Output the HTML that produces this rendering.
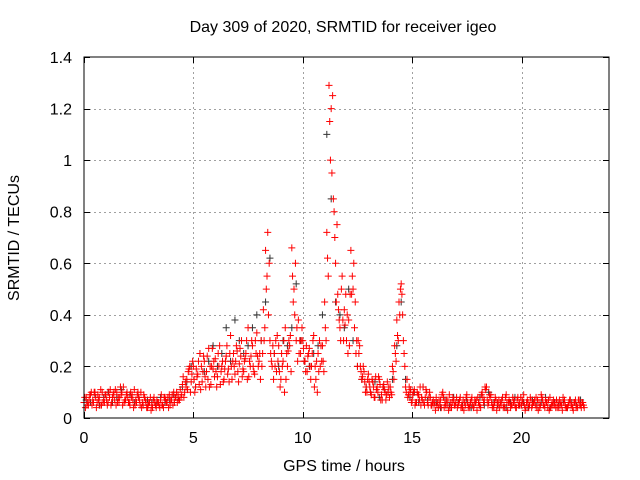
<!DOCTYPE html>
<html><head><meta charset="utf-8"><style>
body{margin:0;background:#fff}
svg{display:block;font-family:"Liberation Sans",sans-serif}
</style></head><body>
<svg id="chart" width="640" height="480">
<text x="343" y="32" text-anchor="middle" font-size="16">Day 309 of 2020, SRMTID for receiver igeo</text>
<text x="344" y="471" text-anchor="middle" font-size="16">GPS time / hours</text>
<text transform="translate(19,238) rotate(-90)" text-anchor="middle" font-size="16">SRMTID / TECUs</text>
<g id="grid"></g>
<g id="ticks"></g>
<g id="black"></g>
<g id="red"></g>
<rect x="84" y="57" width="525" height="361" fill="none" stroke="#000" stroke-width="1"/>
</svg>
<script>
const xTicks=[0,5,10,15,20];
const yTicks=[0,0.2,0.4,0.6,0.8,1,1.2,1.4];
const yTickLabels=["0","0.2","0.4","0.6","0.8","1","1.2","1.4"];
const redA=[0.06,0.08,0.05,0.09,0.07,0.1,0.06,0.08,0.05,0.07,0.09,0.06,0.11,0.08,0.07,0.1,0.06,0.09,0.12,0.07,0.08,0.05,0.09,0.11,0.06,0.08,0.1,0.05,0.07,0.04,0.06,0.05,0.08,0.04,0.06,0.07,0.05,0.08,0.06,0.09,0.07,0.1,0.08,0.09,0.11,
0.13,0.1,0.15,0.19,0.14,
0.2,0.12,0.17,0.25,0.14,0.22,0.18,0.27,0.13,0.19,0.23,0.16,0.28,0.2,0.15,0.24,0.19,0.32,0.22,0.17,0.26,0.21,0.3,0.18,0.25,0.35,0.2,0.28,0.17,0.33,
0.22,0.3,0.42,0.65,0.72,0.3,0.2,0.25,0.18,0.28,
0.15,0.22,0.35,0.2,0.28,0.66,0.5,0.3,0.38,0.25,
0.3,0.22,0.18,0.27,0.2,0.32,0.15,0.25,0.2,0.28,
0.45,0.72,1.29,1.2,0.85,0.6,0.48,0.35,0.55,0.42,
0.3,0.38,0.65,0.5,0.45,0.2,0.28,0.15,0.18,0.12,
0.17,0.1,0.14,0.08,0.12,0.15,0.09,0.13,0.07,0.1,
0.12,0.2,0.28,0.38,0.45,0.52,0.3,0.12,0.08,0.1,
0.07,0.11,0.06,0.09,0.05,0.12,0.08,0.06,0.1,0.05,
0.05,0.08,0.04,0.07,0.1,0.06,0.05,0.09,0.04,0.07,0.06,0.05,0.08,0.04,0.06,0.09,0.05,0.07,0.04,0.06,0.08,0.05,0.1,0.07,0.12,0.06,0.09,0.05,0.08,0.06,0.04,0.07,0.05,0.09,0.06,0.04,0.08,0.05,0.07,0.06,0.05,0.09,0.04,0.06,0.08,0.05,0.07,0.04,0.06,0.09,0.05,0.07,0.04,0.08,0.06,0.05,0.07,0.04,0.06,0.08,0.05,0.04,0.07,0.05,0.06,0.04,0.07,0.05,0.06];
const redB=[0.04,0.06,0.09,0.05,0.1,0.04,0.07,0.11,0.06,0.09,0.05,0.08,0.06,0.1,0.05,0.08,0.12,0.05,0.07,0.1,0.06,0.08,0.04,0.07,0.1,0.05,0.06,0.08,0.04,0.06,0.03,0.07,0.05,0.06,0.04,0.05,0.08,0.06,0.04,0.07,0.05,0.08,0.06,0.07,0.09,
0.08,0.12,0.18,0.1,0.22,
0.1,0.16,0.13,0.2,0.24,0.12,0.15,0.2,0.27,0.16,0.12,0.2,0.18,0.14,0.22,0.17,0.25,0.15,0.2,0.28,0.14,0.24,0.19,0.23,0.15,0.22,0.3,0.18,0.25,0.2,
0.15,0.25,0.35,0.55,0.6,0.22,0.15,0.3,0.22,0.12,
0.2,0.1,0.25,0.3,0.18,0.45,0.6,0.22,0.3,0.35,
0.22,0.28,0.25,0.15,0.3,0.2,0.1,0.3,0.22,0.18,
0.3,0.55,1.0,1.25,0.7,0.75,0.38,0.5,0.3,0.48,
0.25,0.48,0.55,0.35,0.3,0.25,0.18,0.2,0.1,0.15,
0.12,0.15,0.08,0.11,0.16,0.07,0.12,0.1,0.14,0.08,
0.09,0.15,0.22,0.3,0.5,0.4,0.2,0.15,0.12,0.06,
0.1,0.06,0.09,0.12,0.07,0.05,0.1,0.08,0.05,0.07,
0.03,0.06,0.05,0.09,0.04,0.07,0.03,0.06,0.08,0.05,0.04,0.07,0.05,0.03,0.08,0.04,0.06,0.05,0.07,0.03,0.05,0.09,0.06,0.11,0.05,0.08,0.04,0.06,0.03,0.07,0.05,0.04,0.08,0.03,0.06,0.05,0.07,0.04,0.05,0.08,0.06,0.03,0.07,0.05,0.04,0.06,0.08,0.03,0.05,0.07,0.04,0.06,0.03,0.05,0.07,0.04,0.06,0.05,0.03,0.07,0.04,0.06,0.05,0.03,0.07,0.04,0.05,0.06,0.04];
const redC=[0.08,0.05,0.07,0.1,0.06,0.08,0.09,0.05,0.1,0.06,0.07,0.1,0.05,0.09,0.11,0.06,0.08,0.1,0.06,0.09,0.06,0.1,0.07,0.05,0.09,0.07,0.04,0.09,0.06,0.05,0.08,0.04,0.06,0.07,0.05,0.09,0.04,0.07,0.08,0.05,0.09,0.06,0.1,0.07,0.08,
0.16,0.14,0.11,0.2,0.17,
0.15,0.19,0.22,0.11,0.18,0.16,0.24,0.12,0.2,0.22,0.18,0.25,0.13,0.22,0.19,0.28,0.14,0.2,0.25,0.22,0.18,0.27,0.16,0.22,0.3,0.16,0.24,0.2,0.3,0.24,
0.25,0.2,0.3,0.5,0.4,0.25,0.28,0.2,0.32,0.18,
0.25,0.3,0.15,0.26,0.32,0.55,0.4,0.35,0.25,0.3,
0.27,0.18,0.24,0.2,0.25,0.12,0.22,0.18,0.28,0.22,
0.35,0.62,1.15,0.95,0.8,0.45,0.42,0.3,0.38,0.36,
0.4,0.28,0.48,0.6,0.25,0.3,0.2,0.16,0.14,0.1,
0.14,0.09,0.12,0.16,0.1,0.13,0.07,0.11,0.09,0.12,
0.1,0.18,0.25,0.32,0.4,0.48,0.25,0.1,0.09,0.11,
0.09,0.05,0.1,0.07,0.08,0.06,0.11,0.05,0.08,0.06,
0.06,0.05,0.07,0.04,0.08,0.05,0.07,0.04,0.06,0.05,0.08,0.06,0.04,0.07,0.05,0.06,0.04,0.08,0.05,0.07,0.06,0.04,0.08,0.12,0.07,0.09,0.06,0.04,0.07,0.05,0.06,0.08,0.04,0.06,0.07,0.05,0.06,0.04,0.08,0.05,0.07,0.05,0.06,0.04,0.07,0.06,0.05,0.07,0.04,0.08,0.05,0.06,0.07,0.04,0.05,0.06,0.04,0.07,0.05,0.06,0.04,0.05,0.07,0.04,0.06,0.05,0.07,0.04,0.05];
const blackV=[0.07,0.06,0.09,0.05,0.08,0.1,0.06,0.08,0.11,0.07,0.09,0.06,0.08,0.05,0.07,0.06,0.05,0.08,0.06,0.07,0.09,0.08,0.12,
0.14,0.2,0.12,0.25,0.18,0.22,0.28,0.2,0.25,0.35,0.22,0.38,0.3,0.25,
0.28,0.35,0.4,0.3,0.45,
0.62,
0.25,0.2,0.3,0.28,0.35,
0.52,
0.3,0.22,0.2,0.25,0.28,
0.4,1.1,0.85,
0.45,0.4,0.35,0.5,
0.3,0.2,0.15,
0.12,0.1,0.14,0.08,0.12,
0.1,0.15,0.28,0.45,
0.15,0.08,0.1,0.06,0.12,0.07,0.05,
0.06,0.04,0.07,0.05,0.08,0.06,0.05,0.07,0.04,0.06,0.08,0.05,0.1,0.06,0.05,0.07,0.04,0.06,0.08,0.05,0.06,0.04,0.07,0.05,0.06,0.08,0.04,0.06,0.05,0.07,0.04,0.06,0.05,0.07];
const X0=84,X1=609,Y0=418,Y1=57,XMAX=24,YMAX=1.4;
function xs(v){return X0+(X1-X0)*v/XMAX;}
function ys(v){return Y0-(Y0-Y1)*v/YMAX;}
const NS="http://www.w3.org/2000/svg";
const grid=document.getElementById('grid'),ticks=document.getElementById('ticks');
function line(p,x1,y1,x2,y2,st,dash,name){const l=document.createElementNS(NS,'line');l.setAttribute('x1',x1);l.setAttribute('y1',y1);l.setAttribute('x2',x2);l.setAttribute('y2',y2);l.setAttribute('stroke',st);if(dash)l.setAttribute('stroke-dasharray',dash);


p.appendChild(l);}
function text(x,y,s,anchor,name){const t=document.createElementNS(NS,'text');t.setAttribute('x',x);t.setAttribute('y',y);t.setAttribute('text-anchor',anchor);t.setAttribute('font-size','16');t.textContent=s;


ticks.appendChild(t);}
xTicks.forEach(v=>{const x=Math.round(xs(v))+0.5;if(v>0)line(grid,x,Y1,x,Y0,'#a0a0a0','2,3','x-gridline');line(ticks,x,Y0,x,Y0-6,'#000',null,'x-tick');line(ticks,x,Y1,x,Y1+6,'#000',null,'x-tick');text(xs(v),443,String(v),'middle','x-tick-label');});
yTicks.forEach((v,i)=>{const y=Math.round(ys(v))+0.5;if(v>0&&v<YMAX)line(grid,X0,y,X1,y,'#a0a0a0','2,3','y-gridline');line(ticks,X0,y,X0+6,y,'#000',null,'y-tick');line(ticks,X1,y,X1-6,y,'#000',null,'y-tick');text(72,ys(v)+6,yTickLabels[i],'end','y-tick-label');});
function plus(g,t,v,col,name){const p=document.createElementNS(NS,'path');const x=xs(t),y=ys(v);p.setAttribute('d',`M${x-3.5} ${y}H${x+3.5}M${x} ${y-3.5}V${y+3.5}`);p.setAttribute('stroke',col);p.setAttribute('stroke-width','1');


g.appendChild(p);}
const bg=document.getElementById('black'),rg=document.getElementById('red');
blackV.forEach((v,i)=>plus(bg,i*0.2+0.1,v,'#333','point-black'));
redA.forEach((v,i)=>plus(rg,i*0.1,v,'#ff0000','point-red'));
redB.forEach((v,i)=>plus(rg,i*0.1+0.066,v,'#ff0000','point-red'));
redC.forEach((v,i)=>plus(rg,i*0.1+0.033,v,'#ff0000','point-red'));
</script>
</body></html>
